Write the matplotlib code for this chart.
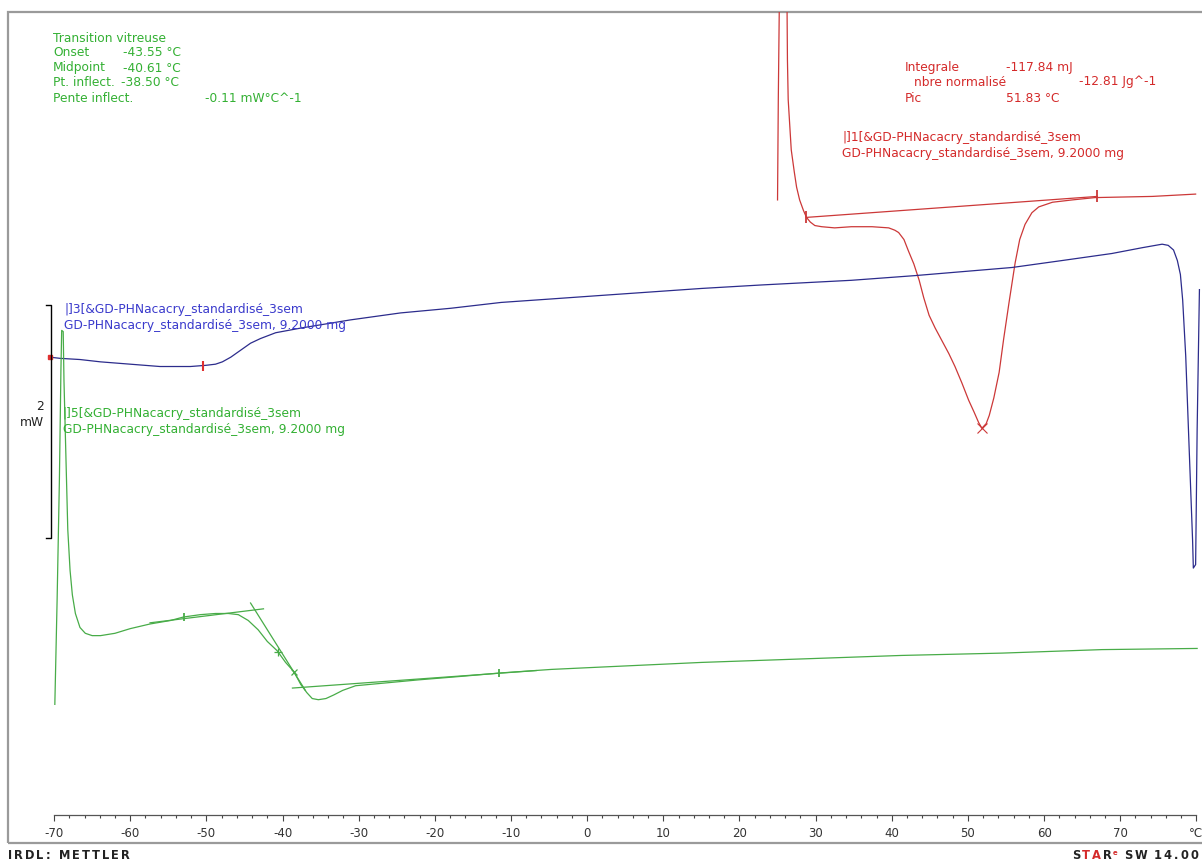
import numpy as np
import matplotlib
matplotlib.use('Agg')
import matplotlib.pyplot as plt
from matplotlib.patches import Rectangle
from matplotlib.ticker import FuncFormatter

W, H = 1202, 867

# --- DSC curves: temperature (degC) / heat flow (mW, with display offset) ---
# run 1 : melting endotherm
T1 = [25.0, 25.1, 25.3, 26.2, 26.3, 26.4, 26.8, 27.2, 27.5, 27.9, 28.4, 28.8, 29.3, 29.9,
      30.8, 32.5, 34.7, 37.4, 39.6, 40.4, 40.9, 41.6, 42.2, 42.9, 43.6, 44.2, 44.9, 45.7,
      46.6, 47.5, 48.3, 49.2, 50.1, 50.8, 51.4, 51.83, 52.4, 52.8, 53.4, 54.1, 54.7, 55.4,
      56.2, 56.8, 57.5, 58.4, 59.3, 61.1, 63.7, 66.7, 74.2, 79.9]
P1 = [5.52, 6.38, 7.60, 7.60, 6.72, 6.38, 5.95, 5.76, 5.63, 5.52, 5.43, 5.37, 5.33, 5.30,
      5.29, 5.28, 5.29, 5.29, 5.28, 5.26, 5.24, 5.18, 5.08, 4.97, 4.83, 4.68, 4.53, 4.42,
      4.31, 4.20, 4.09, 3.95, 3.80, 3.70, 3.61, 3.56, 3.60, 3.67, 3.82, 4.04, 4.33, 4.64,
      4.98, 5.18, 5.31, 5.41, 5.46, 5.50, 5.52, 5.54, 5.55, 5.57]

# run 3
T3 = [-70.5, -69.2, -66.6, -63.9, -60.0, -56.1, -52.1, -50.1, -48.8, -47.9, -46.8, -45.5,
      -44.2, -42.9, -40.9, -37.6, -31.1, -24.5, -17.9, -11.3, -4.7, 1.8, 8.4, 15.0, 22.9,
      34.7, 43.0, 55.8, 62.4, 68.9, 72.9, 75.5, 76.3, 77.0, 77.5, 77.9, 78.2, 78.6, 79.1,
      79.5, 79.6, 79.9, 80.1, 80.4]
P3 = [4.17, 4.16, 4.15, 4.13, 4.11, 4.09, 4.09, 4.10, 4.11, 4.13, 4.17, 4.23,
      4.29, 4.33, 4.38, 4.42, 4.49, 4.55, 4.59, 4.64, 4.67, 4.70, 4.73, 4.76, 4.79,
      4.83, 4.87, 4.94, 5.00, 5.06, 5.11, 5.14, 5.13, 5.09, 5.00, 4.88, 4.66, 4.18, 3.30,
      2.60, 2.36, 2.39, 3.55, 4.75]

# run 5 : glass transition
T5 = [-69.9, -69.6, -69.3, -69.1, -69.0, -68.8, -68.7, -68.4, -68.2, -67.9, -67.6, -67.2,
      -66.6, -65.9, -65.0, -63.9, -62.0, -60.0, -57.4, -54.7, -53.0, -50.8, -48.8, -47.1,
      -45.8, -44.5, -43.2, -42.0, -40.7, -39.6, -38.5, -37.6, -36.8, -36.1, -35.3, -34.3,
      -33.3, -32.1, -30.4, -27.1, -22.2, -16.6, -11.3, -4.7, 1.8, 15.0, 28.2, 41.3, 54.5,
      67.6, 80.1]
P5 = [1.19, 2.09, 3.12, 4.06, 4.40, 4.39, 3.97, 3.20, 2.69, 2.34, 2.13, 1.97,
      1.85, 1.80, 1.78, 1.78, 1.80, 1.84, 1.88, 1.91, 1.94, 1.96, 1.97, 1.97,
      1.96, 1.91, 1.83, 1.73, 1.65, 1.55, 1.47, 1.36, 1.29, 1.24, 1.23, 1.24,
      1.27, 1.31, 1.35, 1.37, 1.40, 1.43, 1.46, 1.49, 1.51, 1.55, 1.58, 1.61, 1.63,
      1.66, 1.67]

# evaluation results
tg_onset, tg_mid, tg_inflect, tg_slope = -43.55, -40.61, -38.50, -0.11
integral_mJ, integral_norm, peak_T = -117.84, -12.81, 51.83
sample = 'GD-PHNacacry_standardisé_3sem'
mass_mg = 9.2

# evaluation limits / construction lines
peak_limits_T = [28.8, 67.0]
peak_limits_P = [5.37, 5.55]
run3_limits_T = [-70.5, -50.5]
tg_limits_T = [-53.0, -11.6]
tg_base_hi_T, tg_base_hi_P = [-57.4, -42.5], [1.89, 2.01]
tg_tangent_T, tg_tangent_P = [-44.2, -37.0], [2.06, 1.31]
tg_base_lo_T, tg_base_lo_P = [-38.7, -6.7], [1.33, 1.48]

# temperature axis
major_T = np.arange(-70, 81, 10)
minor_T = np.arange(-70, 81, 2)

RED, RED_TXT = '#cc3838', '#d42a2a'
BLUE, BLUE_TXT = '#2c2c8c', '#3a3acc'
GREEN, GREEN_TXT = '#48ac48', '#33b033'

fig = plt.figure(figsize=(W / 100, H / 100), dpi=100)


def fx(px):
    return px / W


def fy(py):
    return 1 - py / H


ax = fig.add_axes([fx(8), fy(843), fx(1204) - fx(8), fy(12) - fy(843)])
ax.set_xlim(-76.05, 81.0)
ax.set_ylim(0, 7.133)

# curves
ax.plot(T1, P1, color=RED, lw=0.9)
ax.plot(T3, P3, color=BLUE, lw=0.9)
ax.plot(T5, P5, color=GREEN, lw=0.9)

# peak integration
ax.plot(peak_limits_T, peak_limits_P, color=RED, lw=0.9)
ax.plot(peak_limits_T, peak_limits_P, ls='none', marker='|', ms=9, mew=1.3, color=RED)
ax.plot(peak_T, np.interp(peak_T, T1, P1), marker='x', ms=7, mew=0.8, color=RED)

# run 3 limits
ax.plot(run3_limits_T[0], np.interp(run3_limits_T[0], T3, P3), marker='s', ms=3.5,
        color='#e03030', mec='#e03030')
ax.plot(run3_limits_T[1], np.interp(run3_limits_T[1], T3, P3), marker='|', ms=7,
        mew=1.5, color='#e03030')

# glass transition construction
ax.plot(tg_base_hi_T, tg_base_hi_P, color=GREEN, lw=0.9)
ax.plot(tg_tangent_T, tg_tangent_P, color=GREEN, lw=0.9)
ax.plot(tg_base_lo_T, tg_base_lo_P, color=GREEN, lw=0.9)
ax.plot(tg_limits_T, np.interp(tg_limits_T, T5, P5), ls='none', marker='|', ms=6,
        mew=1.3, color=GREEN)
ax.plot(tg_mid, np.interp(tg_mid, T5, P5), marker='+', ms=6, mew=0.9, color=GREEN)
ax.plot(tg_inflect, np.interp(tg_inflect, T5, P5), marker='x', ms=5, mew=0.9, color=GREEN)

# 2 mW scale bar
sb_x, sb_y0, sb_h = -70.4, 2.62, 2.0
ax.plot([sb_x - 0.7, sb_x, sb_x, sb_x - 0.7], [sb_y0 + sb_h, sb_y0 + sb_h, sb_y0, sb_y0],
        color='black', lw=1.0)
fig.text(fx(44), fy(407), '%d' % sb_h, ha='right', va='center', fontsize=8.8, color='#222')
fig.text(fx(44), fy(423), 'mW', ha='right', va='center', fontsize=8.8, color='#222')

# temperature axis drawn inside the frame
for s in ['top', 'left', 'right']:
    ax.spines[s].set_visible(False)
ax.spines['bottom'].set_position(('data', 0.24))
ax.spines['bottom'].set_bounds(-70, 80)
ax.spines['bottom'].set_color('#555555')
ax.spines['bottom'].set_linewidth(0.9)
ax.set_yticks([])
ax.set_xticks(major_T)
ax.set_xticks(minor_T, minor=True)
ax.xaxis.set_major_formatter(FuncFormatter(lambda v, p: '°C' if v >= 79.5 else '%d' % v))
ax.tick_params(axis='x', which='major', length=4.5, width=0.8, color='#444',
               labelsize=8.5, labelcolor='#333', pad=4)
ax.tick_params(axis='x', which='minor', length=2.2, width=0.8, color='#444')
ax.add_patch(Rectangle((0, 0), 1, 1, transform=ax.transAxes, fill=False,
                       ec='#9a9a9a', lw=1.6, clip_on=False))

fs = 8.8
# glass transition results
fig.text(fx(53), fy(38), 'Transition vitreuse', color=GREEN_TXT, fontsize=fs, va='center')
fig.text(fx(53), fy(53), 'Onset', color=GREEN_TXT, fontsize=fs, va='center')
fig.text(fx(123), fy(53), '%.2f °C' % tg_onset, color=GREEN_TXT, fontsize=fs, va='center')
fig.text(fx(53), fy(68), 'Midpoint', color=GREEN_TXT, fontsize=fs, va='center')
fig.text(fx(123), fy(68), '%.2f °C' % tg_mid, color=GREEN_TXT, fontsize=fs, va='center')
fig.text(fx(53), fy(83), 'Pt. inflect.', color=GREEN_TXT, fontsize=fs, va='center')
fig.text(fx(121), fy(83), '%.2f °C' % tg_inflect, color=GREEN_TXT, fontsize=fs, va='center')
fig.text(fx(53), fy(98), 'Pente inflect.', color=GREEN_TXT, fontsize=fs, va='center')
fig.text(fx(205), fy(98), '%.2f mW°C^-1' % tg_slope, color=GREEN_TXT, fontsize=fs, va='center')

# peak integration results
fig.text(fx(905), fy(67), 'Integrale', color=RED_TXT, fontsize=fs, va='center')
fig.text(fx(1006), fy(67), '%.2f mJ' % integral_mJ, color=RED_TXT, fontsize=fs, va='center')
fig.text(fx(914), fy(82), 'nbre normalisé', color=RED_TXT, fontsize=fs, va='center')
fig.text(fx(1079), fy(82), '%.2f Jg^-1' % integral_norm, color=RED_TXT, fontsize=fs, va='center')
fig.text(fx(905), fy(98), 'Pic', color=RED_TXT, fontsize=fs, va='center')
fig.text(fx(1006), fy(98), '%.2f °C' % peak_T, color=RED_TXT, fontsize=fs, va='center')

# curve labels
for run, (x, y), c in [(1, (842, 137), RED_TXT), (3, (64, 309), BLUE_TXT), (5, (63, 413), GREEN_TXT)]:
    fig.text(fx(x), fy(y), '|]%d[&%s' % (run, sample), color=c, fontsize=fs, va='center')
    fig.text(fx(x), fy(y + 16), '%s, %.4f mg' % (sample, mass_mg), color=c, fontsize=fs,
             va='center')


def chain(x, y, parts, size):
    # letter-spaced text: each piece is (text, colour, gap before it, raise, scale)
    s0, c0 = parts[0][:2]
    t = fig.text(fx(x), fy(y), s0, color=c0, fontsize=size, fontweight='bold',
                 va='baseline')
    prev_dy = 0
    for s, c, gap, dy, sc in parts[1:]:
        t = ax.annotate(s, xy=(1, 0), xycoords=t, xytext=(gap, dy - prev_dy),
                        textcoords='offset points', ha='left', va='bottom', color=c,
                        fontsize=size * sc, fontweight='bold', annotation_clip=False)
        prev_dy = dy
    return t


DARK = '#222222'
g = 1.4
chain(8, 859, [('I', DARK), ('R', DARK, g, 0, 1), ('D', DARK, g, 0, 1), ('L', DARK, g, 0, 1),
               (':', DARK, g, 0, 1), ('M', DARK, 6.5, 0, 1), ('E', DARK, g, 0, 1),
               ('T', DARK, g, 0, 1), ('T', DARK, g, 0, 1), ('L', DARK, g, 0, 1),
               ('E', DARK, g, 0, 1), ('R', DARK, g, 0, 1)], 8.3)
chain(1072, 859, [('S', DARK), ('T', RED_TXT, g, 0, 1), ('A', RED_TXT, g, 0, 1),
                  ('R', DARK, g, 0, 1), ('e', RED_TXT, 1.0, 4, 0.6), ('S', DARK, 4.5, 0, 1),
                  ('W', DARK, g, 0, 1), ('1', DARK, 5.0, 0, 1), ('4', DARK, g, 0, 1),
                  ('.', DARK, g, 0, 1), ('0', DARK, g, 0, 1), ('0', DARK, g, 0, 1)], 8.3)

fig.savefig('out.png', dpi=100)
